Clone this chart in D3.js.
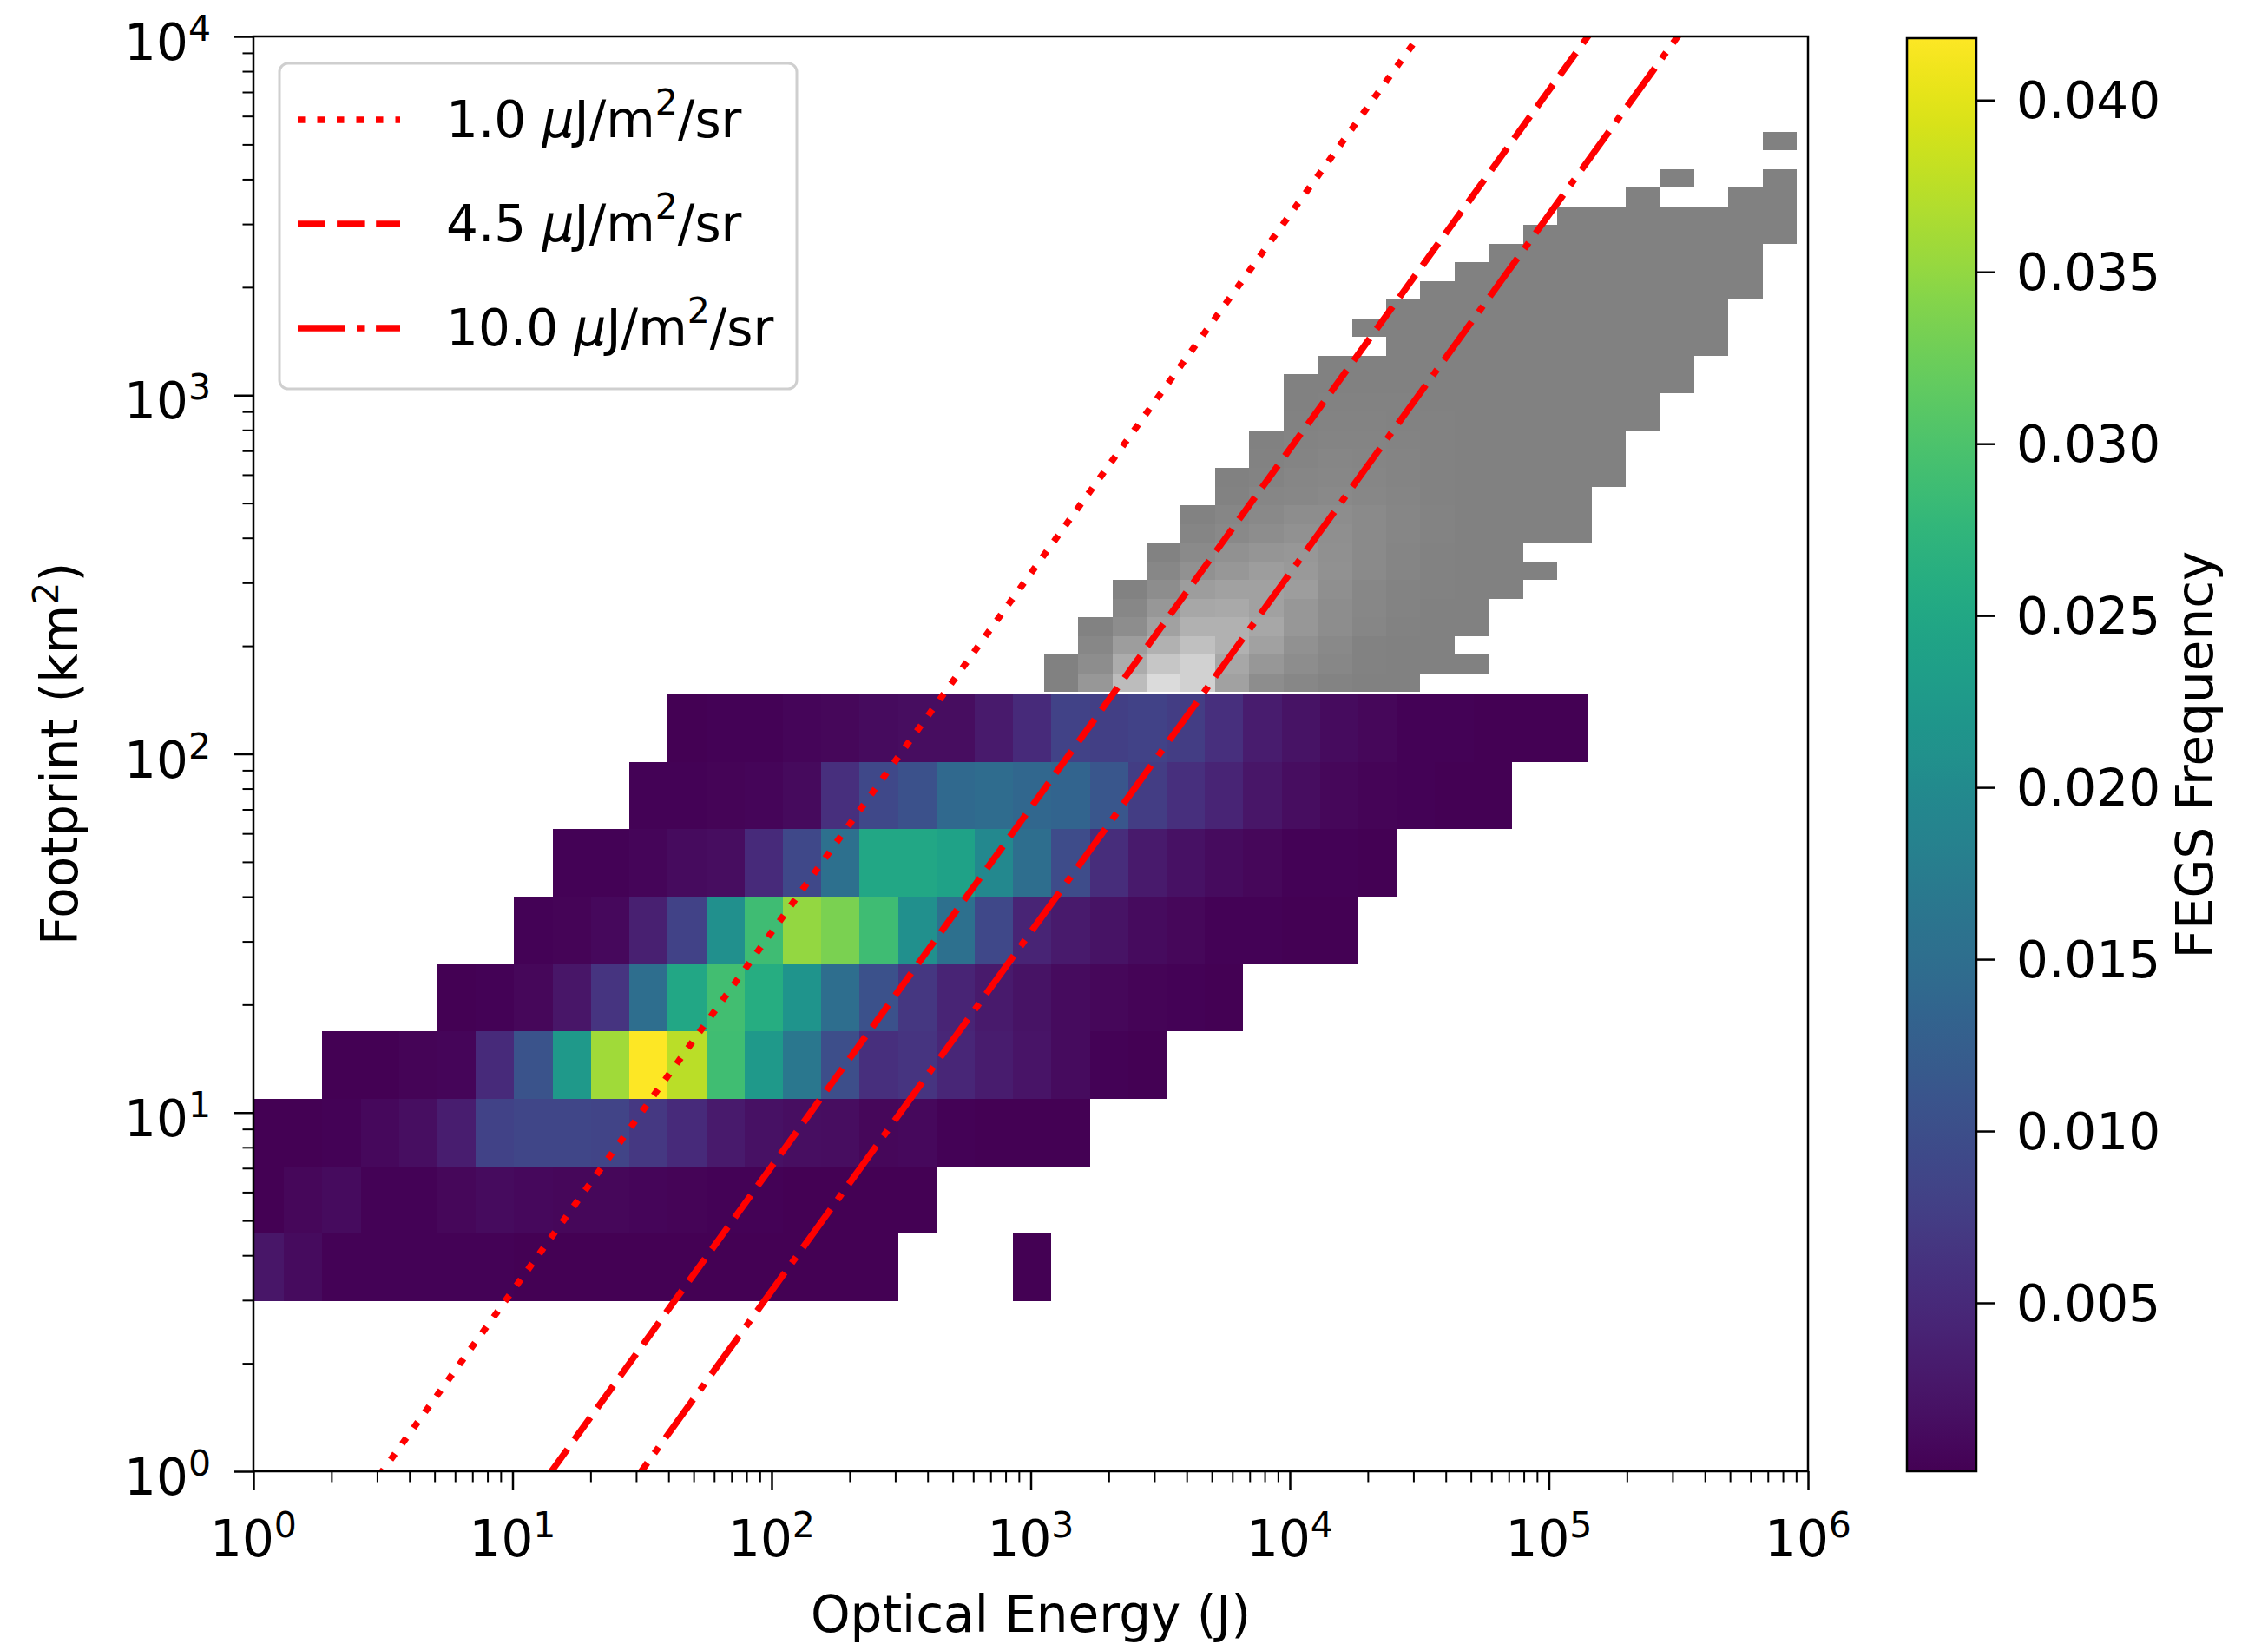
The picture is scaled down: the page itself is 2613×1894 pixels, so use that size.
<!DOCTYPE html>
<html>
<head>
<meta charset="utf-8">
<script src="https://cdn.jsdelivr.net/npm/d3@7"></script>
<style>
  body { margin: 0; background: #fff; }
  text { font-family: "DejaVu Sans", sans-serif; fill: #000; }
</style>
</head>
<body>
<svg id="chart" width="2613" height="1894"></svg>
<script>
// ---------------- data ----------------
// FEGS 2D histogram: 35 log-spaced energy bins x 9 log-spaced footprint bins.
// Rows go from the smallest footprint bin upward; 0 means an empty bin.
const fegsEnergyRange = [0.933, 142400];     // J
const fegsFootprintRange = [2.98, 146.6];    // km^2
const fegsFrequency = [
  [0.0025,0.0013,0.0004,0.0003,0.0003,0.0003,0.0003,0.0002,0.0002,0.0002,0.0002,0.0002,0.0001,0.0001,0.0001,0.0001,0.0001,0,0,0,0.0001,0,0,0,0,0,0,0,0,0,0,0,0,0,0],
  [0.0002,0.0009,0.0013,0.0004,0.0003,0.0008,0.0013,0.001,0.0008,0.0008,0.0006,0.0005,0.0004,0.0003,0.00025,0.0002,0.0001,0.0001,0,0,0,0,0,0,0,0,0,0,0,0,0,0,0,0,0],
  [0.0002,0.0002,0.0003,0.001,0.0017,0.0035,0.0083,0.0088,0.0088,0.0085,0.0068,0.005,0.003,0.002,0.0017,0.0015,0.0008,0.001,0.0004,0.00025,0.0002,0.0001,0,0,0,0,0,0,0,0,0,0,0,0,0],
  [0,0,0.0002,0.00025,0.0005,0.0006,0.005,0.0108,0.0225,0.0359,0.0417,0.0375,0.029,0.0225,0.0167,0.01,0.0058,0.0063,0.0046,0.0033,0.0023,0.0013,0.0004,0.00025,0,0,0,0,0,0,0,0,0,0,0],
  [0,0,0,0,0,0.0002,0.0003,0.0008,0.0025,0.0063,0.015,0.025,0.0292,0.0259,0.0217,0.015,0.0104,0.0067,0.0042,0.0029,0.0021,0.0013,0.0008,0.0005,0.0003,0.0002,0,0,0,0,0,0,0,0,0],
  [0,0,0,0,0,0,0,0.0004,0.0005,0.001,0.0038,0.0083,0.0209,0.0288,0.035,0.0334,0.0288,0.0209,0.0154,0.0092,0.0042,0.0029,0.0021,0.0013,0.0008,0.0004,0.0003,0.00025,0.0002,0,0,0,0,0,0],
  [0,0,0,0,0,0,0,0,0.0003,0.0004,0.0006,0.0013,0.0015,0.005,0.0092,0.0154,0.025,0.025,0.0242,0.0196,0.015,0.0096,0.0054,0.0029,0.0019,0.0013,0.0008,0.0004,0.0003,0.0002,0,0,0,0,0],
  [0,0,0,0,0,0,0,0,0,0,0.0004,0.0004,0.0005,0.0006,0.0012,0.0058,0.0092,0.0104,0.0142,0.0146,0.0138,0.0133,0.0113,0.0075,0.0058,0.0042,0.0025,0.0015,0.0008,0.0005,0.0003,0.00025,0.0002,0,0],
  [0,0,0,0,0,0,0,0,0,0,0,0.0002,0.0003,0.0004,0.0006,0.0008,0.0013,0.0015,0.0015,0.0029,0.005,0.0083,0.0079,0.0083,0.0075,0.0058,0.0033,0.0021,0.0013,0.0008,0.0004,0.0003,0.00025,0.0002,0.0002]
];
const fegsColorRange = [0.0001, 0.0418];
const colorbarTicks = [0.005, 0.010, 0.015, 0.020, 0.025, 0.030, 0.035, 0.040];

// GLM 2D histogram (drawn in grey): 22 energy bins x 30 footprint bins,
// relative density 0-100, rows from the smallest footprint bin upward; 0 = empty.
const glmEnergyRange = [1125, 905000];       // J
const glmFootprintRange = [148.9, 5420];     // km^2
const glmDensity = [
  [1,25,65,99,88,36,14,8,3,1,1,0,0,0,0,0,0,0,0,0,0,0],
  [1,14,48,76,88,42,25,14,8,2,1,1,1,0,0,0,0,0,0,0,0,0],
  [0,8,31,53,70,53,36,19,10,2,1,1,0,0,0,0,0,0,0,0,0,0],
  [0,2,14,36,53,53,42,25,14,6,2,1,1,0,0,0,0,0,0,0,0,0],
  [0,0,8,25,42,45,36,25,14,8,3,1,1,0,0,0,0,0,0,0,0,0],
  [0,0,2,14,31,36,36,31,16,8,3,2,1,1,0,0,0,0,0,0,0,0],
  [0,0,0,8,19,25,31,27,19,11,5,2,1,1,1,0,0,0,0,0,0,0],
  [0,0,0,2,11,19,23,25,17,11,5,2,1,1,0,0,0,0,0,0,0,0],
  [0,0,0,0,5,10,14,19,16,11,6,3,1,1,1,1,0,0,0,0,0,0],
  [0,0,0,0,2,6,10,14,14,11,6,3,1,1,1,1,0,0,0,0,0,0],
  [0,0,0,0,0,2,6,8,10,8,5,2,1,1,1,1,0,0,0,0,0,0],
  [0,0,0,0,0,1,3,6,8,6,4,2,1,1,1,1,1,0,0,0,0,0],
  [0,0,0,0,0,0,2,4,6,5,4,2,1,1,1,1,1,0,0,0,0,0],
  [0,0,0,0,0,0,1,3,4,4,3,2,1,1,1,1,1,0,0,0,0,0],
  [0,0,0,0,0,0,0,2,3,3,2,2,1,1,1,1,1,1,0,0,0,0],
  [0,0,0,0,0,0,0,1,2,2,2,1,1,1,1,1,1,1,0,0,0,0],
  [0,0,0,0,0,0,0,1,1,1,1,1,1,1,1,1,1,1,1,0,0,0],
  [0,0,0,0,0,0,0,0,1,1,1,1,1,1,1,1,1,1,1,0,0,0],
  [0,0,0,0,0,0,0,0,0,0,1,1,1,1,1,1,1,1,1,1,0,0],
  [0,0,0,0,0,0,0,0,0,1,1,1,1,1,1,1,1,1,1,1,0,0],
  [0,0,0,0,0,0,0,0,0,0,1,1,1,1,1,1,1,1,1,1,0,0],
  [0,0,0,0,0,0,0,0,0,0,0,1,1,1,1,1,1,1,1,1,1,0],
  [0,0,0,0,0,0,0,0,0,0,0,0,1,1,1,1,1,1,1,1,1,0],
  [0,0,0,0,0,0,0,0,0,0,0,0,0,1,1,1,1,1,1,1,1,0],
  [0,0,0,0,0,0,0,0,0,0,0,0,0,0,1,1,1,1,1,1,1,1],
  [0,0,0,0,0,0,0,0,0,0,0,0,0,0,0,1,1,1,1,1,1,1],
  [0,0,0,0,0,0,0,0,0,0,0,0,0,0,0,0,0,1,0,0,1,1],
  [0,0,0,0,0,0,0,0,0,0,0,0,0,0,0,0,0,0,1,0,0,1],
  [0,0,0,0,0,0,0,0,0,0,0,0,0,0,0,0,0,0,0,0,0,0],
  [0,0,0,0,0,0,0,0,0,0,0,0,0,0,0,0,0,0,0,0,0,1]
];

// Constant-radiance reference lines (µJ/m²/sr): E = π · L · A
const radianceLevels = [1.0, 4.5, 10.0];
const radianceLabels = ["1.0", "4.5", "10.0"];

// axis ticks
const energyDecades = [1, 10, 100, 1e3, 1e4, 1e5, 1e6];
const energyExponents = ["0", "1", "2", "3", "4", "5", "6"];
const footprintDecades = [1, 10, 100, 1e3, 1e4];
const footprintExponents = ["0", "1", "2", "3", "4"];

// ---------------- styles ----------------
const lineDash = ["8.5,14", "31.5,13.6", "54.4,13.6,8.5,13.6"];
const FS = 58, FS_SUP = 41;

// ---------------- drawing ----------------
const svg = d3.select("#chart");
const P = { left: 292, right: 2083, top: 42, bottom: 1695 };

const x = d3.scaleLog().domain([1, 1e6]).range([P.left, P.right]);
const y = d3.scaleLog().domain([1, 1e4]).range([P.bottom, P.top]);

const logEdges = (lo, hi, n) => d3.range(n + 1).map(i => lo * Math.pow(hi / lo, i / n));

svg.append("defs").append("clipPath").attr("id", "plotClip")
  .append("rect").attr("x", P.left).attr("y", P.top)
  .attr("width", P.right - P.left).attr("height", P.bottom - P.top);

const plot = svg.append("g").attr("clip-path", "url(#plotClip)");

function histCells(matrix) {
  const out = [];
  matrix.forEach((row, j) => row.forEach((v, k) => { if (v > 0) out.push({ v, j, k }); }));
  return out;
}

// GLM (grey)
const glmX = logEdges(glmEnergyRange[0], glmEnergyRange[1], glmDensity[0].length);
const glmY = logEdges(glmFootprintRange[0], glmFootprintRange[1], glmDensity.length);
const grey = d3.scaleLinear().domain([0, 100]).range(["#808080", "#dcdcdc"]);
plot.append("g").attr("shape-rendering", "crispEdges")
  .selectAll("rect").data(histCells(glmDensity)).join("rect")
  .attr("x", d => x(glmX[d.k]))
  .attr("width", d => x(glmX[d.k + 1]) - x(glmX[d.k]))
  .attr("y", d => y(glmY[d.j + 1]))
  .attr("height", d => y(glmY[d.j]) - y(glmY[d.j + 1]))
  .attr("fill", d => grey(d.v));

// FEGS (viridis)
const fegsX = logEdges(fegsEnergyRange[0], fegsEnergyRange[1], fegsFrequency[0].length);
const fegsY = logEdges(fegsFootprintRange[0], fegsFootprintRange[1], fegsFrequency.length);
const color = d3.scaleSequential(d3.interpolateViridis).domain(fegsColorRange).clamp(true);
plot.append("g").attr("shape-rendering", "crispEdges")
  .selectAll("rect").data(histCells(fegsFrequency)).join("rect")
  .attr("x", d => x(fegsX[d.k]))
  .attr("width", d => x(fegsX[d.k + 1]) - x(fegsX[d.k]))
  .attr("y", d => y(fegsY[d.j + 1]))
  .attr("height", d => y(fegsY[d.j]) - y(fegsY[d.j + 1]))
  .attr("fill", d => color(d.v));

// radiance lines
const energySpan = [1, 1e6];
const line = d3.line().x(d => x(d[0])).y(d => y(d[1]));
radianceLevels.forEach((L, i) => {
  plot.append("path")
    .attr("d", line(energySpan.map(E => [E, E / (Math.PI * L)])))
    .attr("fill", "none").attr("stroke", "#ff0000")
    .attr("stroke-width", 7.5)
    .attr("stroke-dasharray", lineDash[i]);
});

// frame
svg.append("rect").attr("x", P.left).attr("y", P.top)
  .attr("width", P.right - P.left).attr("height", P.bottom - P.top)
  .attr("fill", "none").attr("stroke", "#000").attr("stroke-width", 2.5);

// minor tick values
function minorTicks(decades) {
  const out = [];
  decades.slice(0, -1).forEach(d => { for (let m = 2; m <= 9; m++) out.push(d * m); });
  return out;
}

// x axis
const xAxisG = svg.append("g").attr("transform", `translate(0,${P.bottom})`);
xAxisG.append("g").call(d3.axisBottom(x).tickValues(energyDecades).tickSize(22).tickSizeOuter(0).tickFormat(""))
  .call(g => { g.select(".domain").remove(); g.selectAll("line").attr("stroke-width", 2.5); });
xAxisG.append("g").call(d3.axisBottom(x).tickValues(minorTicks(energyDecades)).tickSize(12.5).tickSizeOuter(0).tickFormat(""))
  .call(g => { g.select(".domain").remove(); g.selectAll("line").attr("stroke-width", 2); });
energyDecades.forEach((v, i) => {
  const t = svg.append("text").attr("x", x(v)).attr("y", 1793)
    .attr("text-anchor", "middle").attr("font-size", FS);
  t.append("tspan").text("10");
  t.append("tspan").attr("dy", -22).attr("font-size", FS_SUP).text(energyExponents[i]);
});

// y axis
const yAxisG = svg.append("g").attr("transform", `translate(${P.left},0)`);
yAxisG.append("g").call(d3.axisLeft(y).tickValues(footprintDecades).tickSize(22).tickSizeOuter(0).tickFormat(""))
  .call(g => { g.select(".domain").remove(); g.selectAll("line").attr("stroke-width", 2.5); });
yAxisG.append("g").call(d3.axisLeft(y).tickValues(minorTicks(footprintDecades)).tickSize(12.5).tickSizeOuter(0).tickFormat(""))
  .call(g => { g.select(".domain").remove(); g.selectAll("line").attr("stroke-width", 2); });
footprintDecades.forEach((v, i) => {
  const t = svg.append("text").attr("x", 243).attr("y", y(v) + 27)
    .attr("text-anchor", "end").attr("font-size", FS);
  t.append("tspan").text("10");
  t.append("tspan").attr("dy", -22).attr("font-size", FS_SUP).text(footprintExponents[i]);
});

// axis titles
svg.append("text").attr("x", (P.left + P.right) / 2).attr("y", 1880)
  .attr("text-anchor", "middle").attr("font-size", FS).text("Optical Energy (J)");
const yt = svg.append("text").attr("transform", `translate(89,${(P.top + P.bottom) / 2}) rotate(-90)`)
  .attr("text-anchor", "middle").attr("font-size", FS);
yt.append("tspan").text("Footprint (km");
yt.append("tspan").attr("dy", -22).attr("font-size", FS_SUP).text("2");
yt.append("tspan").attr("dy", 22).text(")");

// legend
const LG = { x: 322, y: 73, w: 596, h: 375 };
const legend = svg.append("g");
legend.append("rect").attr("x", LG.x).attr("y", LG.y).attr("width", LG.w).attr("height", LG.h)
  .attr("rx", 10).attr("fill", "#fff").attr("fill-opacity", 0.8)
  .attr("stroke", "#cfcfcf").attr("stroke-width", 3);
radianceLevels.forEach((L, i) => {
  const cy = 138 + i * 120;
  legend.append("line").attr("x1", 343).attr("x2", 461).attr("y1", cy).attr("y2", cy)
    .attr("stroke", "#ff0000").attr("stroke-width", 7.5).attr("stroke-dasharray", lineDash[i]);
  const t = legend.append("text").attr("x", 514).attr("y", cy + 20).attr("font-size", FS);
  t.append("tspan").text(radianceLabels[i] + " ");
  t.append("tspan").attr("font-style", "italic").text("μ");
  t.append("tspan").text("J/m");
  t.append("tspan").attr("dy", -26).attr("font-size", FS_SUP).text("2");
  t.append("tspan").attr("dy", 26).text("/sr");
});

// colorbar
const CB = { x: 2197, w: 80, top: 44, bottom: 1695 };
const cbScale = d3.scaleLinear().domain(fegsColorRange).range([CB.bottom, CB.top]);
const grad = svg.select("defs").append("linearGradient").attr("id", "viridisGrad")
  .attr("x1", 0).attr("y1", 1).attr("x2", 0).attr("y2", 0);
d3.range(0, 1.0001, 0.02).forEach(t => {
  grad.append("stop").attr("offset", t).attr("stop-color", d3.interpolateViridis(t));
});
svg.append("rect").attr("x", CB.x).attr("y", CB.top).attr("width", CB.w)
  .attr("height", CB.bottom - CB.top).attr("fill", "url(#viridisGrad)")
  .attr("stroke", "#000").attr("stroke-width", 2.5);
svg.append("g").attr("transform", `translate(${CB.x + CB.w},0)`)
  .call(d3.axisRight(cbScale).tickValues(colorbarTicks).tickSize(22).tickSizeOuter(0).tickFormat(""))
  .call(g => { g.select(".domain").remove(); g.selectAll("line").attr("stroke-width", 2.5); });
colorbarTicks.forEach(v => {
  svg.append("text").attr("x", 2323).attr("y", cbScale(v) + 21)
    .attr("font-size", FS).text(d3.format(".3f")(v));
});
svg.append("text").attr("transform", `translate(2549,${(CB.top + CB.bottom) / 2}) rotate(-90)`)
  .attr("text-anchor", "middle").attr("font-size", FS).text("FEGS Frequency");
</script>
</body>
</html>
